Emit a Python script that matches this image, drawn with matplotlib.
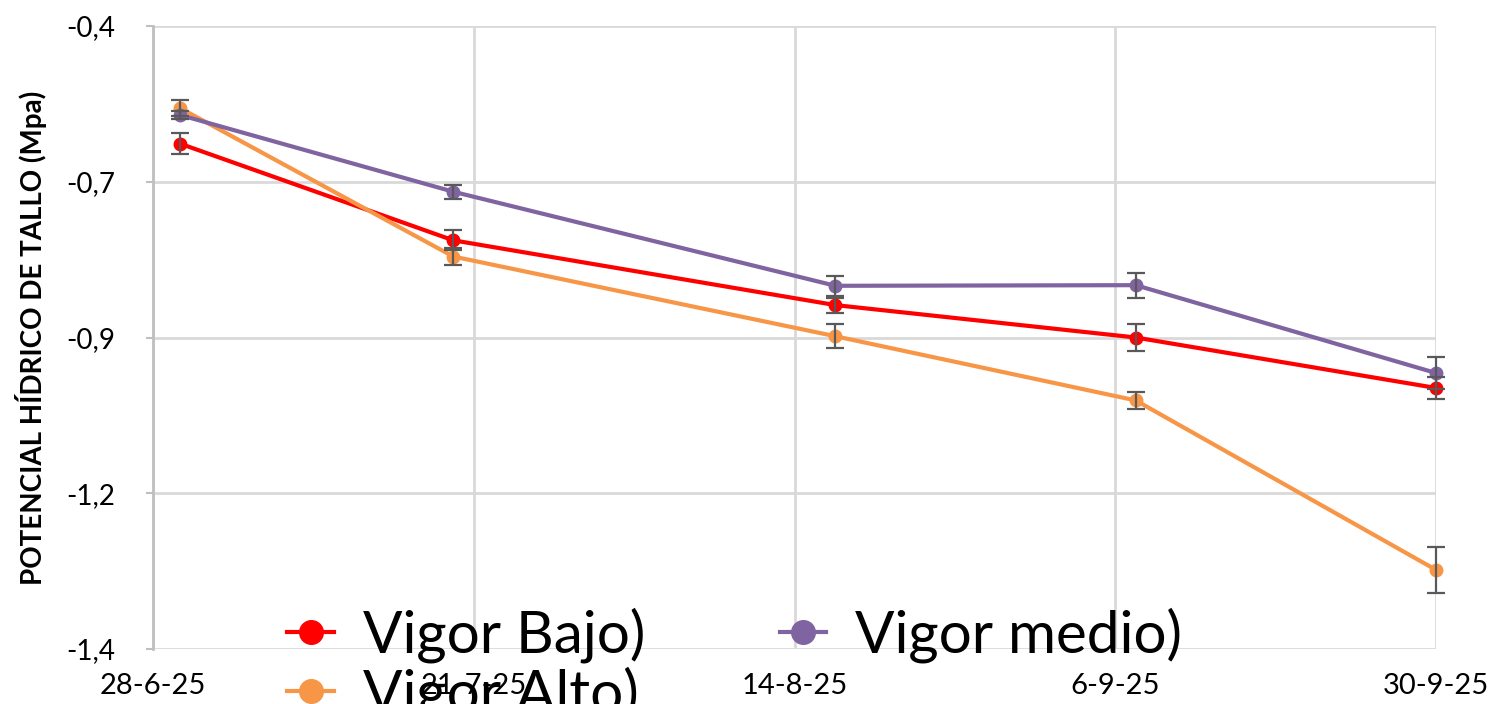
import matplotlib.pyplot as plt
from matplotlib.lines import Line2D

# días desde 28-6-25
dias = [2, 22, 50, 72, 94]

vigor_bajo = [-0.589, -0.744, -0.848, -0.900, -0.981]
vigor_bajo_err = [0.017, 0.016, 0.012, 0.022, 0.018]

vigor_alto = [-0.532, -0.770, -0.898, -1.001, -1.273]
vigor_alto_err = [0.013, 0.014, 0.019, 0.013, 0.037]

vigor_medio = [-0.543, -0.666, -0.817, -0.816, -0.957]
vigor_medio_err = [0.006, 0.011, 0.016, 0.020, 0.026]

x_ticks = [0, 23.5, 47, 70.5, 94]
x_labels = ['28-6-25', '21-7-25', '14-8-25', '6-9-25', '30-9-25']
y_ticks = [-1.4, -1.15, -0.9, -0.65, -0.4]
y_labels = ['-1,4', '-1,2', '-0,9', '-0,7', '-0,4']

plt.rcParams['font.family'] = ['Lato', 'DejaVu Sans']

fig = plt.figure(figsize=(14.89, 7.04), dpi=100)
ax = fig.add_axes([153 / 1489, 1 - 649 / 704, (1436 - 153) / 1489, (649 - 26) / 704])

series = [
    ('Vigor Bajo)', vigor_bajo, vigor_bajo_err, '#FF0000'),
    ('Vigor Alto)', vigor_alto, vigor_alto_err, '#F79646'),
    ('Vigor medio)', vigor_medio, vigor_medio_err, '#8064A2'),
]

for name, vals, err, col in series:
    ax.plot(dias, vals, color=col, linewidth=3, marker='o',
            markersize=9, label=name, zorder=3, clip_on=False)
    ax.errorbar(dias, vals, yerr=err, fmt='none', ecolor='#595959',
                elinewidth=1.6, capsize=6.5, capthick=1.6, zorder=4, clip_on=False)

ax.set_xlim(0, 94)
ax.set_ylim(-1.4, -0.4)
ax.set_xticks(x_ticks)
ax.set_xticklabels(x_labels)
ax.set_yticks(y_ticks)
ax.set_yticklabels(y_labels)

ax.grid(True, color='#D9D9D9', linewidth=2, zorder=0)
ax.set_axisbelow(True)
for s in ['top', 'right', 'bottom']:
    ax.spines[s].set_visible(False)
ax.spines['left'].set_color('#BFBFBF')
ax.spines['left'].set_linewidth(2)

ax.tick_params(axis='y', colors='#BFBFBF', length=5, width=1.5,
               labelcolor='black', labelsize=20, pad=22)
ax.tick_params(axis='x', length=0, labelsize=21, pad=17)

ax.set_ylabel('POTENCIAL HÍDRICO DE TALLO (Mpa)', fontsize=20,
              fontweight='bold', labelpad=14)

# leyenda grande sin marco, sobre el gráfico
leg_handles = [Line2D([], [], color=c, linewidth=3, marker='o', markersize=17)
               for _, _, _, c in series]
fig.legend(leg_handles, [s[0] for s in series], ncol=2,
           loc='upper left', bbox_to_anchor=(258 / 1489, 1 - 578 / 704),
           frameon=False, fontsize=42, handlelength=0.8,
           handletextpad=0.5, columnspacing=2.3, labelspacing=0.05,
           borderpad=0)

fig.savefig('out.png', dpi=100)
